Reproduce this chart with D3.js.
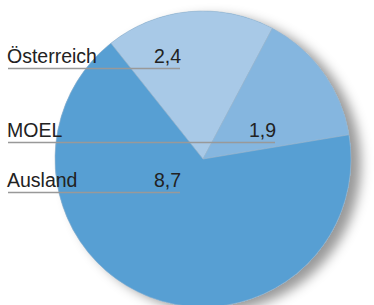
<!DOCTYPE html>
<html>
<head>
<meta charset="utf-8">
<script src="https://cdn.jsdelivr.net/npm/d3@7"></script>
<style>
  body { margin: 0; background: #fff; }
  svg { display: block; }
  text { font-family: "Liberation Sans", Arial, sans-serif; fill: #222; }
</style>
</head>
<body>
<svg></svg>
<script>
// data
var categories = ["Österreich", "MOEL", "Ausland"];
var values = [2.4, 1.9, 8.7];
var valueLabels = ["2,4", "1,9", "8,7"];
var colors = ["#a8c9e7", "#85b6df", "#579fd3"];

var width = 374;
var height = 305;
var cx = 203, cy = 159, radius = 148;

var svg = d3.select("svg")
  .attr("width", width)
  .attr("height", height);

var defs = svg.append("defs");
var filter = defs.append("filter")
  .attr("id", "shadow")
  .attr("x", "-20%").attr("y", "-20%")
  .attr("width", "140%").attr("height", "140%");
filter.append("feDropShadow")
  .attr("dx", 10).attr("dy", 5)
  .attr("stdDeviation", 6)
  .attr("flood-color", "#000")
  .attr("flood-opacity", 0.4);

var data = categories.map((c, i) => ({ name: c, value: values[i], label: valueLabels[i], color: colors[i] }));

var startDeg = -38.5;
var pie = d3.pie()
  .sort(null)
  .value(d => d.value)
  .startAngle(startDeg * Math.PI / 180)
  .endAngle((startDeg + 360) * Math.PI / 180);

var arc = d3.arc().innerRadius(0).outerRadius(radius);

var g = svg.append("g")
  .attr("transform", `translate(${cx},${cy})`);

// shadow disc
g.append("circle")
  .attr("r", radius)
  .attr("fill", colors[2])
  .attr("filter", "url(#shadow)");

g.selectAll("path")
  .data(pie(data))
  .enter()
  .append("path")
  .attr("d", arc)
  .attr("fill", d => d.data.color)
  .attr("stroke", "#9fb8cf")
  .attr("stroke-width", 0.6);

// labels (layout)
var labelLayout = [
  { y: 63, lineEnd: 180 },
  { y: 137, lineEnd: 275 },
  { y: 187, lineEnd: 180 }
];

var labels = svg.selectAll("g.label")
  .data(data)
  .enter()
  .append("g")
  .classed("label", true);

labels.append("line")
  .attr("x1", 8)
  .attr("x2", (d, i) => labelLayout[i].lineEnd)
  .attr("y1", (d, i) => labelLayout[i].y + 5.5)
  .attr("y2", (d, i) => labelLayout[i].y + 5.5)
  .attr("stroke", "#999")
  .attr("stroke-width", 1.6);

labels.append("text")
  .attr("x", 7)
  .attr("y", (d, i) => labelLayout[i].y)
  .style("font-size", "19.5px")
  .text(d => d.name);

labels.append("text")
  .attr("x", (d, i) => labelLayout[i].lineEnd + 1)
  .attr("y", (d, i) => labelLayout[i].y)
  .style("font-size", "19.5px")
  .style("text-anchor", "end")
  .text(d => d.label);
</script>
</body>
</html>
